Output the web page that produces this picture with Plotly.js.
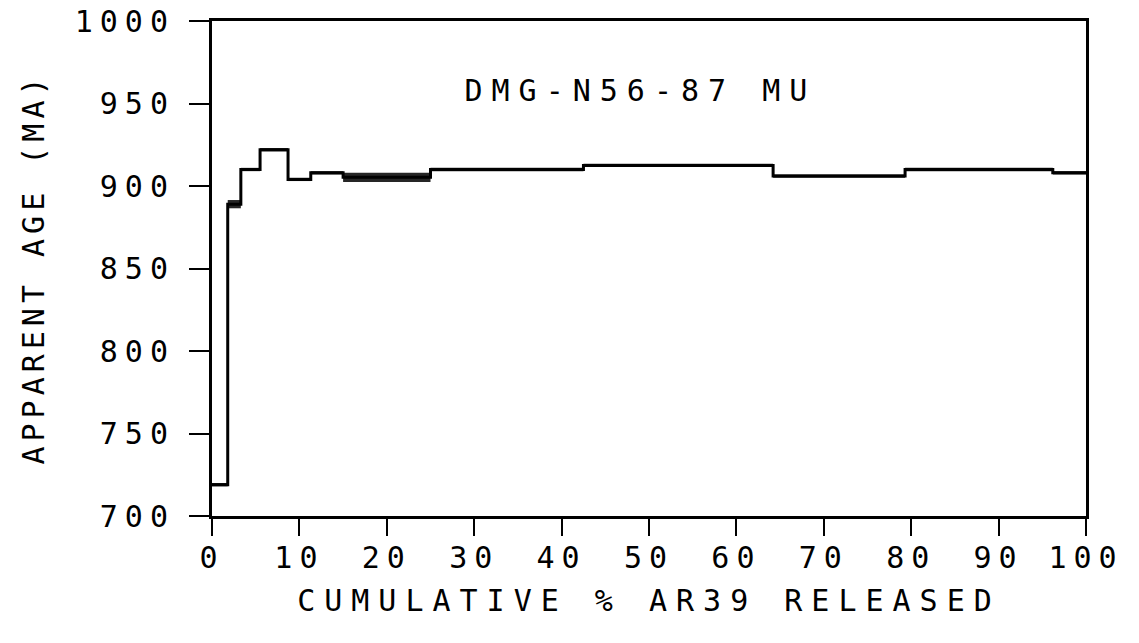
<!DOCTYPE html>
<html>
<head>
<meta charset="utf-8">
<script src="https://cdn.plot.ly/plotly-3.0.1.min.js"></script>
<style>
html,body{margin:0;padding:0;background:#fff;}
#chart{width:1139px;height:643px;}
#chart .xtick text, #chart .ytick text{letter-spacing:7px;}
#chart text.xtitle{letter-spacing:9px;}
#chart text.ytitle{letter-spacing:5px;}
#chart .annotation-text{letter-spacing:9px;}
</style>
</head>
<body>
<div id="chart"></div>
<script>
// Step edges (cumulative % 39Ar released)
const stepEdges = [0, 1.8, 3.3, 5.5, 8.7, 11.3, 15.0, 25.0, 42.5, 64.2, 79.3, 96.2, 100];
// Apparent age of each step (Ma)
const stepAges = [719, 889, 910, 922, 904, 908, 905.3, 910, 912.5, 906, 910, 908];
// Half-height of the drawn uncertainty box (Ma)
const stepErrors = [1, 2.5, 1, 1, 1, 1, 2.8, 1, 1, 1, 1, 1];

const xTicks = [0, 10, 20, 30, 40, 50, 60, 70, 80, 90, 100];
const yTicks = [700, 750, 800, 850, 900, 950, 1000];
const sampleLabel = "DMG-N56-87 MU";
const xTitle = "CUMULATIVE % AR39 RELEASED";
const yTitle = "APPARENT AGE (MA)";

const FONT = "DejaVu Sans Mono, monospace";

const traces = [];
// error boxes
for (let i = 0; i < stepAges.length; i++) {
  const x0 = stepEdges[i], x1 = stepEdges[i + 1];
  const lo = stepAges[i] - stepErrors[i], hi = stepAges[i] + stepErrors[i];
  traces.push({
    x: [x0, x1, x1, x0, x0],
    y: [lo, lo, hi, hi, lo],
    mode: "lines",
    fill: "toself",
    fillcolor: "#262626",
    line: {width: 0, color: "#262626"},
    hoverinfo: "skip",
    showlegend: false
  });
}
// step line
const lx = stepEdges.slice();
const ly = stepAges.concat([stepAges[stepAges.length - 1]]);
traces.push({
  x: lx, y: ly,
  mode: "lines",
  line: {shape: "hv", color: "#000", width: 3},
  showlegend: false
});

const layout = {
  width: 1139, height: 643,
  margin: {l: 212, r: 53, t: 21, b: 127},
  paper_bgcolor: "#fff", plot_bgcolor: "#fff",
  font: {family: FONT, color: "#000", size: 30},
  showlegend: false,
  xaxis: {
    range: [0, 100], tickvals: xTicks, ticktext: xTicks.map(String),
    showgrid: false, zeroline: false,
    showline: true, mirror: true, linecolor: "#000", linewidth: 3,
    ticks: "outside", ticklen: 17, tickwidth: 2, tickcolor: "#000",
    tickfont: {family: FONT, size: 30, color: "#000"},
    ticklabelstandoff: -4,
    title: {text: xTitle, font: {family: FONT, size: 30, color: "#000"}, standoff: 16}
  },
  yaxis: {
    range: [700, 1000], tickvals: yTicks, ticktext: yTicks.map(String),
    showgrid: false, zeroline: false,
    showline: true, mirror: true, linecolor: "#000", linewidth: 3,
    ticks: "outside", ticklen: 20, tickwidth: 2, tickcolor: "#000",
    tickfont: {family: FONT, size: 30, color: "#000"},
    ticklabelstandoff: 8,
    title: {text: yTitle, font: {family: FONT, size: 30, color: "#000"}, standoff: 50}
  },
  annotations: [{
    text: sampleLabel, xref: "paper", yref: "paper",
    x: 0.49, y: 0.86, xanchor: "center", yanchor: "middle",
    showarrow: false, font: {family: FONT, size: 30, color: "#000"}
  }]
};

Plotly.newPlot("chart", traces, layout, {displayModeBar: false, staticPlot: true});
</script>
</body>
</html>
